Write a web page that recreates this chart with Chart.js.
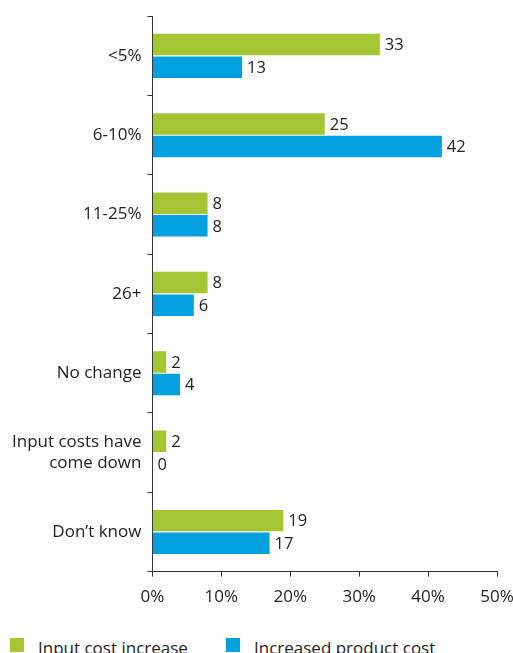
<!DOCTYPE html>
<html>
<head>
<meta charset="utf-8">
<script src="https://cdn.jsdelivr.net/npm/chart.js@4.4.1/dist/chart.umd.min.js"></script>
<style>
  html, body { margin: 0; padding: 0; background: #fff; overflow: hidden; }
  #page { position: relative; width: 513px; height: 653px; }
  #wrap { position: absolute; left: 0; top: 0; width: 513px; height: 617px; }
  #legend { position: absolute; left: 0; top: 637px; width: 513px; height: 24px;
            font-family: 'Open Sans', 'DejaVu Sans', sans-serif; font-size: 17px; color: #222; }
  #legend .item { position: absolute; top: 0; line-height: 20px; white-space: nowrap; }
  #legend .box { position: absolute; top: 1px; width: 14px; height: 14px; }
  #legend .txt { position: absolute; top: 1px; }
</style>
</head>
<body>
<div id="page">
  <div id="wrap"><canvas id="costChart"></canvas></div>
  <div id="legend"></div>
</div>
<script>
// categories and values
const categories = ['<5%', '6-10%', '11-25%', '26+', 'No change', ['Input costs have', 'come down'], 'Don\u2019t know'];
const inputCostIncrease = [33, 25, 8, 8, 2, 2, 19];
const increasedProductCost = [13, 42, 8, 6, 4, 0, 17];
const xTicks = [0, 10, 20, 30, 40, 50];

const FONT = "'Open Sans', 'DejaVu Sans', sans-serif";
const TEXT = '#222222';

// draws the number just past the end of each bar
const barValueLabels = {
    id: 'barValueLabels',
    afterDatasetsDraw(chart) {
        const ctx = chart.ctx;
        ctx.save();
        ctx.font = '16.5px ' + FONT;
        ctx.fillStyle = TEXT;
        ctx.textAlign = 'left';
        ctx.textBaseline = 'middle';
        chart.data.datasets.forEach((ds, i) => {
            chart.getDatasetMeta(i).data.forEach((bar, j) => {
                ctx.fillText(String(ds.data[j]), bar.x + 5, bar.y + 1);
            });
        });
        ctx.restore();
    }
};

const ctx = document.getElementById('costChart').getContext('2d');
const chart = new Chart(ctx, {
    type: 'bar',
    data: {
        labels: categories,
        datasets: [{
            label: 'Input cost increase',
            data: inputCostIncrease,
            backgroundColor: '#a5c533',
            barPercentage: 0.95,
            categoryPercentage: 0.57
        }, {
            label: 'Increased product cost',
            data: increasedProductCost,
            backgroundColor: '#00a1de',
            barPercentage: 0.95,
            categoryPercentage: 0.57
        }]
    },
    options: {
        indexAxis: 'y',
        responsive: true,
        maintainAspectRatio: false,
        animation: false,
        layout: { padding: { top: 15, right: 0, left: 6, bottom: 0 } },
        scales: {
            x: {
                min: 0,
                max: 50,
                afterBuildTicks(axis) {
                    axis.ticks = xTicks.map(v => ({ value: v }));
                },
                afterFit(axis) {
                    // leave just enough room for half of the "50%" label
                    axis.paddingRight = 16;
                },
                grid: {
                    drawOnChartArea: false,
                    drawTicks: true,
                    tickLength: 5,
                    color: '#333'
                },
                border: { color: '#333', width: 1 },
                ticks: {
                    color: TEXT,
                    font: { family: FONT, size: 17 },
                    padding: 10,
                    callback: v => v + '%'
                }
            },
            y: {
                grid: {
                    offset: true,
                    drawOnChartArea: false,
                    drawTicks: true,
                    tickLength: 5,
                    color: '#333'
                },
                border: { color: '#333', width: 1 },
                ticks: {
                    color: TEXT,
                    font: { family: FONT, size: 17 },
                    padding: 6
                }
            }
        },
        plugins: {
            legend: { display: false },
            tooltip: { enabled: false }
        }
    },
    plugins: [barValueLabels]
});

// legend below the chart, built from the datasets
const legendEl = document.getElementById('legend');
const legendX = [10, 226];
chart.data.datasets.forEach((ds, i) => {
    const item = document.createElement('div');
    item.className = 'item';
    item.style.left = legendX[i] + 'px';
    const box = document.createElement('span');
    box.className = 'box';
    box.style.background = ds.backgroundColor;
    const txt = document.createElement('span');
    txt.className = 'txt';
    txt.style.left = '28px';
    txt.textContent = ds.label;
    item.appendChild(box);
    item.appendChild(txt);
    legendEl.appendChild(item);
});
</script>
</body>
</html>
